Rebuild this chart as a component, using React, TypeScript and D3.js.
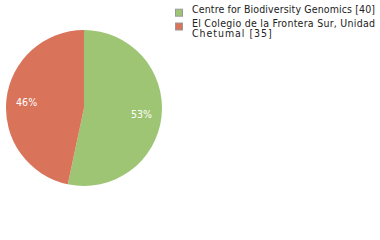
import React, { useEffect, useRef } from "react";
import * as d3 from "d3";

const labels = ["Centre for Biodiversity Genomics [40]", "El Colegio de la Frontera Sur, Unidad|Chetumal [35]"];
const values = [40, 35];
const pctLabels = ["53%", "46%"];
const colors = ["#9dc573", "#d9735a"];

export default function App() {
  const ref = useRef<SVGSVGElement>(null);

  useEffect(() => {
    const svg = d3.select(ref.current);
    svg.selectAll("*").remove();
    const font = "'DejaVu Sans Condensed', 'DejaVu Sans', sans-serif";

    const cx = 84, cy = 108, r = 78;
    const pie = d3.pie<number>().sort(null)(values);
    const arc = d3.arc<d3.PieArcDatum<number>>().innerRadius(0).outerRadius(r);
    const labelArc = d3.arc<d3.PieArcDatum<number>>().innerRadius(r * 0.74).outerRadius(r * 0.74);

    const g = svg.append("g").attr("transform", `translate(${cx},${cy})`);
    g.selectAll("path")
      .data(pie)
      .enter()
      .append("path")
      .attr("d", arc)
      .attr("fill", (d, i) => colors[i]);

    g.selectAll("text")
      .data(pie)
      .enter()
      .append("text")
      .attr("x", d => labelArc.centroid(d)[0])
      .attr("y", d => labelArc.centroid(d)[1])
      .attr("dy", "0.35em")
      .attr("text-anchor", "middle")
      .attr("fill", "#fff")
      .style("font-family", font)
      .style("font-size", "10.5px")
      .attr("textLength", 21)
      .attr("lengthAdjust", "spacing")
      .text((d, i) => pctLabels[i]);

    // legend
    const rowY = [12.7, 26.5];
    const avail = 183;
    labels.forEach((lab, i) => {
      svg.append("rect")
        .attr("x", 175.5).attr("y", rowY[i] - 3.5)
        .attr("width", 7).attr("height", 7)
        .attr("fill", colors[i])
        .attr("stroke", "#999").attr("stroke-width", 1);
      lab.split("|").forEach((ln, j) => {
        const t = svg.append("text")
          .attr("x", 192).attr("y", rowY[i] + j * 10.5)
          .style("font-family", font)
          .style("font-size", "10.5px")
          .attr("fill", "#222")
          .text(ln);
        // widen tracking a little, like the reference
        const w = (t.node() as SVGTextElement).getComputedTextLength();
        t.attr("textLength", Math.min(avail, w * 1.17)).attr("lengthAdjust", "spacing");
      });
    });
  }, []);

  return (
    <div style={{ position: "absolute", left: 0, top: 0 }}>
      <svg ref={ref} width={380} height={240} style={{ display: "block", background: "#fff" }} />
    </div>
  );
}
